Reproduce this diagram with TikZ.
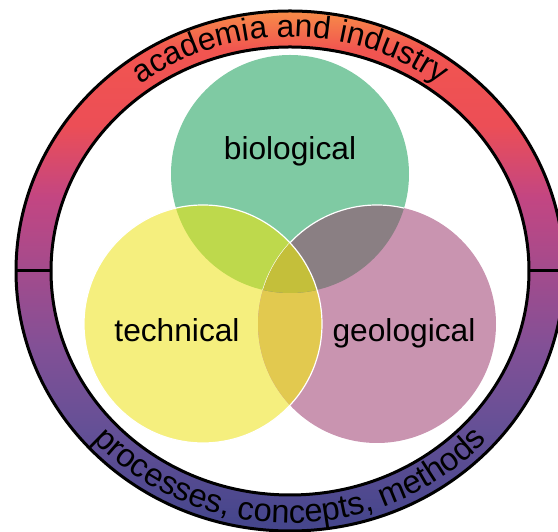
\documentclass[tikz,border=0pt]{standalone}
\usepackage{fontspec}
\setmainfont{Liberation Sans}
\usetikzlibrary{decorations.text}
\definecolor{BioGreen}{HTML}{7FCAA3}
\definecolor{TechYellow}{HTML}{F5EF7E}
\definecolor{GeoPink}{HTML}{C994B0}
\definecolor{BioTech}{HTML}{BED94C}
\definecolor{BioGeo}{HTML}{8A7F83}
\definecolor{TechGeo}{HTML}{E2C94F}
\definecolor{AllThree}{HTML}{C4BF3A}
\definecolor{RingA}{RGB}{70,70,140}
\definecolor{RingB}{RGB}{100,80,150}
\definecolor{RingC}{RGB}{130,80,150}
\definecolor{RingD}{RGB}{165,75,140}
\definecolor{RingE}{RGB}{195,70,130}
\definecolor{RingF}{RGB}{236,78,86}
\definecolor{RingG}{RGB}{241,85,80}
\definecolor{RingH}{RGB}{247,140,72}
\pgfdeclareverticalshading{ringshade}{100bp}{color(0bp)=(RingA); color(26bp)=(RingA); color(34.7bp)=(RingB); color(42.7bp)=(RingC); color(50.4bp)=(RingD); color(57.1bp)=(RingE); color(64bp)=(RingF); color(71.3bp)=(RingG); color(75bp)=(RingH); color(100bp)=(RingH)}
\newcommand{\ringfont}{\fontsize{31.7}{38}\selectfont}
\newcommand{\lowringfont}{\fontsize{32.6}{39}\selectfont}

\begin{document}
\begin{tikzpicture}[x=1pt,y=1pt,
    ringline/.style={line width=3pt},
    vennline/.style={white, line width=1.2pt},
    vennlabel/.style={font=\ringfont, anchor=base, inner sep=0pt}]
    \useasboundingbox (0,0) rectangle (558,532);
    \coordinate (c) at (290,261);
    \coordinate (bio) at (290,358);
    \coordinate (tech) at (203,208);
    \coordinate (geo) at (377,208);
    % ring
    \shade[shading=ringshade, even odd rule] (c) ellipse[x radius=274, y radius=260] (c) ellipse[x radius=239, y radius=224];
    \draw[ringline] (c) ellipse[x radius=274, y radius=260] (c) ellipse[x radius=239, y radius=224];
    \coordinate (outerL) at (16,261);
    \coordinate (innerL) at (51,261);
    \coordinate (innerR) at (529,261);
    \coordinate (outerR) at (564,261);
    \draw[ringline] (outerL) -- (innerL) (innerR) -- (outerR);
    \path[decorate, decoration={text along path, text align=center, text={|\ringfont|academia and industry}}]
        (c) ++(150:248 and 234) arc[start angle=150, end angle=30, x radius=248, y radius=234];
    \path[decorate, decoration={text along path, text align=center, text={|\lowringfont|processes, concepts, methods}}]
        (c) ++(200:266 and 252) arc[start angle=200, end angle=340, x radius=266, y radius=252];
    % venn
    \fill[BioGreen] (bio) circle[radius=119];
    \fill[TechYellow] (tech) circle[radius=119];
    \fill[GeoPink] (geo) circle[radius=119];
    \begin{scope}
        \clip (tech) circle[radius=119];
        \fill[TechGeo] (geo) circle[radius=119];
    \end{scope}
    \begin{scope}
        \clip (bio) circle[radius=119];
        \fill[BioTech] (tech) circle[radius=119];
        \fill[BioGeo] (geo) circle[radius=119];
        \draw[vennline] (geo) circle[radius=119];
        \clip (tech) circle[radius=119];
        \fill[AllThree] (geo) circle[radius=119];
    \end{scope}
    \draw[vennline] (tech) circle[radius=119];
    \node[vennlabel] (bioLabel) at (290,372) {biological};
    \node[vennlabel] (techLabel) at (177,190) {technical};
    \node[vennlabel] (geoLabel) at (404,190) {geological};
\end{tikzpicture}
\end{document}
